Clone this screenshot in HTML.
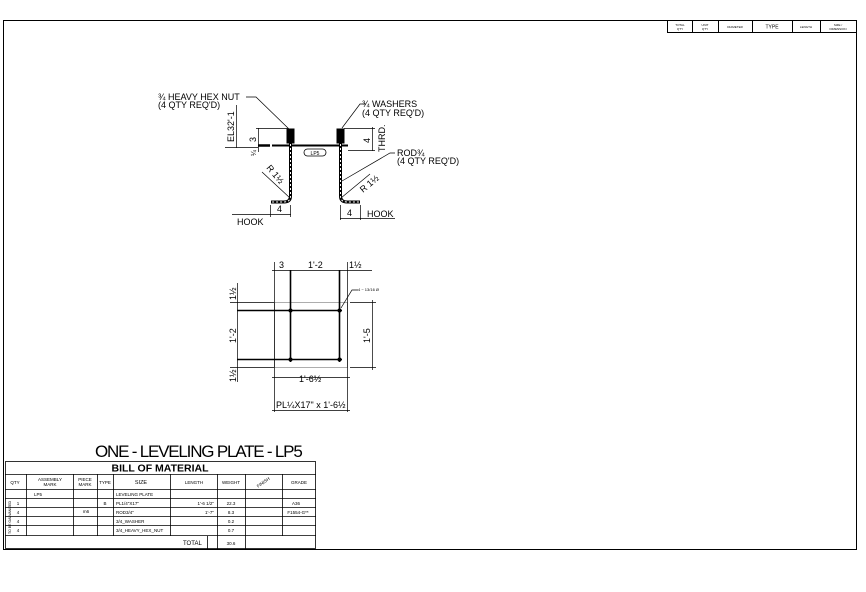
<!DOCTYPE html>
<html><head><meta charset="utf-8"><style>
body{margin:0;background:#fff}
svg{display:block;font-family:"Liberation Sans",sans-serif}
</style></head><body>
<svg width="866" height="592" viewBox="0 0 866 592">
<rect width="866" height="592" fill="#fff"/>
<g stroke="#000" stroke-width="1" fill="none">
<line x1="3" y1="20.5" x2="857" y2="20.5"/>
<line x1="3.5" y1="20" x2="3.5" y2="550"/>
<line x1="856.5" y1="20" x2="856.5" y2="550"/>
<line x1="3" y1="549.5" x2="857" y2="549.5"/>
<rect x="667.5" y="20.5" width="189" height="12"/>
<line x1="692.5" y1="20" x2="692.5" y2="33"/>
<line x1="718.5" y1="20" x2="718.5" y2="33"/>
<line x1="752.5" y1="20" x2="752.5" y2="33"/>
<line x1="792.5" y1="20" x2="792.5" y2="33"/>
<line x1="820.5" y1="20" x2="820.5" y2="33"/>
</g>
<g font-size="3" text-anchor="middle" fill="#000">
<text x="680" y="26">TOTAL</text><text x="680" y="30">QTY</text>
<text x="705" y="26">UNIT</text><text x="705" y="30">QTY</text>
<text x="735" y="28">DIAMETER</text>
<text x="772" y="28.5" font-size="5">TYPE</text>
<text x="806" y="28">LENGTH</text>
<text x="838" y="26">SIZE /</text><text x="838" y="30">DIMENSION</text>
</g>

<g stroke="#000" fill="none">
<line x1="272" y1="145.5" x2="348" y2="145.5" stroke-width="2"/>
<line x1="258" y1="145.5" x2="270" y2="145.5" stroke-width="2.5"/>
<path d="M290.5 132 V196 Q290.5 202 284 202 H271" stroke-width="3"/>
<path d="M290.5 132 V196 Q290.5 202 284 202 H271" stroke="#fff" stroke-width="1" stroke-dasharray="2 2"/>
<rect x="287" y="129" width="7" height="14" fill="#000"/>
<path d="M340.5 132 V196 Q340.5 202 347 202 H360" stroke-width="3"/>
<path d="M340.5 132 V196 Q340.5 202 347 202 H360" stroke="#fff" stroke-width="1" stroke-dasharray="2 2"/>
<rect x="337" y="129" width="7" height="14" fill="#000"/>
<g stroke-width="0.7">
<line x1="236.5" y1="105" x2="236.5" y2="148"/>
<line x1="225" y1="147.5" x2="258" y2="147.5"/>
<line x1="258.5" y1="128" x2="258.5" y2="152"/>
<line x1="256" y1="128.5" x2="288" y2="128.5"/>
<line x1="372.5" y1="127" x2="372.5" y2="151"/>
<line x1="344" y1="128.5" x2="375" y2="128.5"/>
<line x1="348" y1="150.5" x2="375" y2="150.5"/>
<path d="M246 97 H256 L290 130"/>
<path d="M366 104 H360 L342 128"/>
<path d="M395 153 H390 L342 181"/>
<line x1="262" y1="172" x2="290" y2="198"/>
<line x1="370" y1="174" x2="341" y2="198"/>
<line x1="270.5" y1="205" x2="270.5" y2="217"/>
<line x1="290.5" y1="205" x2="290.5" y2="217"/>
<line x1="232" y1="214.5" x2="291" y2="214.5"/>
<line x1="340.5" y1="205" x2="340.5" y2="220"/>
<line x1="360.5" y1="205" x2="360.5" y2="220"/>
<line x1="340" y1="218.5" x2="395" y2="218.5"/>
</g>
<rect x="304" y="149" width="22" height="7" rx="3.5" stroke-width="0.8"/>
</g>
<g fill="#000" font-size="9">
<text x="158" y="100">¾ HEAVY HEX NUT</text>
<text x="158" y="108">(4 QTY REQ'D)</text>
<text x="362" y="107">¾ WASHERS</text>
<text x="362" y="116">(4 QTY REQ'D)</text>
<text x="397" y="156">ROD¾</text>
<text x="397" y="164">(4 QTY REQ'D)</text>
<text x="237" y="225">HOOK</text>
<text x="367" y="217">HOOK</text>
<text x="277" y="212">4</text>
<text x="347" y="216">4</text>
<text x="315" y="155" font-size="5" text-anchor="middle">LP5</text>
<text transform="translate(234,142) rotate(-90)">EL32'-1</text>
<text transform="translate(256,142) rotate(-90)">3</text>
<text transform="translate(256,156) rotate(-90)" font-size="7">¼</text>
<text transform="translate(370,143) rotate(-90)">4</text>
<text transform="translate(385,152) rotate(-90)">THRD.</text>
<text transform="translate(266,168) rotate(50)">R 1½</text>
<text transform="translate(363,193) rotate(-40)">R 1½</text>
</g>

<g stroke="#000" fill="none">
<rect x="274.5" y="302.5" width="73" height="65" stroke="#999" stroke-width="0.8"/>
<line x1="237" y1="310.5" x2="342" y2="310.5" stroke-width="1.6"/>
<line x1="237" y1="359.5" x2="342" y2="359.5" stroke-width="1.6"/>
<line x1="290.5" y1="270" x2="290.5" y2="362" stroke-width="1.6"/>
<line x1="339.5" y1="270" x2="339.5" y2="362" stroke-width="1.6"/>
<g stroke-width="0.7">
<line x1="272" y1="270.5" x2="372" y2="270.5"/>
<line x1="274.5" y1="262" x2="274.5" y2="412"/>
<line x1="347.5" y1="262" x2="347.5" y2="412"/>
<line x1="237.5" y1="283" x2="237.5" y2="382"/>
<line x1="230" y1="302.5" x2="274" y2="302.5"/>
<line x1="230" y1="367.5" x2="274" y2="367.5"/>
<line x1="350" y1="302.5" x2="376" y2="302.5"/>
<line x1="350" y1="367.5" x2="376" y2="367.5"/>
<line x1="372.5" y1="300" x2="372.5" y2="370"/>
<line x1="272" y1="377.5" x2="350" y2="377.5"/>
<line x1="272" y1="410.5" x2="350" y2="410.5"/>
<path d="M341 308 L352 290 H358"/>
</g>
</g>
<g fill="#000">
<circle cx="290.5" cy="310.5" r="2"/><circle cx="339.5" cy="310.5" r="2"/>
<circle cx="290.5" cy="359.5" r="2"/><circle cx="339.5" cy="359.5" r="2"/>
</g>
<g fill="#000" font-size="9">
<text x="279" y="268">3</text>
<text x="308" y="268">1'-2</text>
<text x="349" y="268">1½</text>
<text x="358" y="291" font-size="4">4 ~ 13/16 Ø</text>
<text x="299" y="382">1'-6½</text>
<text x="276" y="408">PL¼X17" x 1'-6½</text>
<text transform="translate(236,300) rotate(-90)">1½</text>
<text transform="translate(236,343) rotate(-90)">1'-2</text>
<text transform="translate(236,382) rotate(-90)">1½</text>
<text transform="translate(370,343) rotate(-90)">1'-5</text>
</g>

<text x="95" y="457" font-size="17" letter-spacing="-1.2" fill="#000">ONE - LEVELING PLATE - LP5</text>
<g stroke="#000" stroke-width="0.8" fill="none">
<rect x="5.5" y="461.5" width="310" height="87"/>
<line x1="5" y1="474.5" x2="316" y2="474.5"/>
<line x1="5" y1="489.5" x2="316" y2="489.5"/>
<line x1="5" y1="498.5" x2="316" y2="498.5"/>
<line x1="5" y1="507.5" x2="316" y2="507.5"/>
<line x1="5" y1="516.5" x2="316" y2="516.5"/>
<line x1="5" y1="525.5" x2="316" y2="525.5"/>
<line x1="5" y1="535.5" x2="316" y2="535.5"/>
<line x1="26.5" y1="474" x2="26.5" y2="536"/>
<line x1="73.5" y1="474" x2="73.5" y2="536"/>
<line x1="97.5" y1="474" x2="97.5" y2="536"/>
<line x1="113.5" y1="474" x2="113.5" y2="536"/>
<line x1="170.5" y1="474" x2="170.5" y2="536"/>
<line x1="207.5" y1="536" x2="207.5" y2="549"/>
<line x1="217.5" y1="474" x2="217.5" y2="549"/>
<line x1="245.5" y1="474" x2="245.5" y2="549"/>
<line x1="282.5" y1="474" x2="282.5" y2="536"/>
</g>
<g fill="#000" font-size="4.5" text-anchor="middle">
<text x="160" y="471.5" font-size="10.5" font-weight="bold">BILL OF MATERIAL</text>
<text x="15" y="484">QTY</text>
<text x="50" y="481">ASSEMBLY</text><text x="50" y="486">MARK</text>
<text x="85" y="481">PIECE</text><text x="85" y="486">MARK</text>
<text x="105" y="484">TYPE</text>
<text x="141" y="484" font-size="5.5">SIZE</text>
<text x="194" y="484">LENGTH</text>
<text x="231" y="484">WEIGHT</text>
<text x="263" y="484" transform="rotate(-35 263 482)">FINISH</text>
<text x="299" y="484">GRADE</text>
<text x="38" y="496">LP5</text>
<text x="18" y="505">1</text><text x="18" y="514">4</text><text x="18" y="523">4</text><text x="18" y="532">4</text>
<text x="105" y="505">B</text>
<text x="86" y="513">m6</text>
<text x="231" y="505">22.3</text><text x="231" y="514">8.3</text><text x="231" y="523">0.2</text><text x="231" y="532">0.7</text>
<text x="296" y="505">A36</text><text x="298" y="514">F1554-G**</text>
<text x="231" y="545">30.6</text>
</g>
<g fill="#000" font-size="4.5">
<text x="116" y="496">LEVELING PLATE</text>
<text x="116" y="505">PL1/4"X17"</text>
<text x="116" y="514">ROD3/4"</text>
<text x="116" y="523">3/4_WASHER</text>
<text x="116" y="532">3/4_HEAVY_HEX_NUT</text>
<text x="214" y="505" text-anchor="end">1'-6 1/2"</text>
<text x="214" y="514" text-anchor="end">1'-7"</text>
<text x="183" y="545" font-size="6">TOTAL</text>
<text transform="translate(11,534) rotate(-90)" font-size="3.5">TO BE GALVANIZED</text>
</g>
</svg>
</body></html>
